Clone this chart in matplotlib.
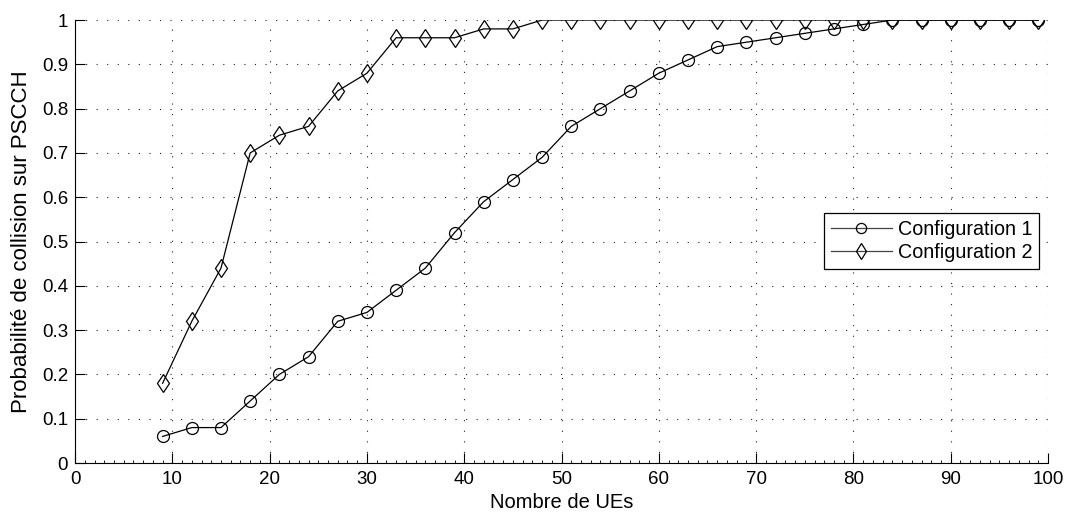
import numpy as np
import matplotlib
matplotlib.use('Agg')
import matplotlib.pyplot as plt
from matplotlib.ticker import MultipleLocator

plt.rcParams['font.family'] = ['Liberation Sans', 'DejaVu Sans']

# Données
nb_ue = [9, 12, 15, 18, 21, 24, 27, 30, 33, 36, 39, 42, 45, 48, 51, 54,
         57, 60, 63, 66, 69, 72, 75, 78, 81, 84, 87, 90, 93, 96, 99]
config1 = [0.06, 0.08, 0.08, 0.14, 0.20, 0.24, 0.32, 0.34, 0.39, 0.44, 0.52,
           0.59, 0.64, 0.69, 0.76, 0.80, 0.84, 0.88, 0.91, 0.94, 0.95, 0.96,
           0.97, 0.98, 0.99, 1.0, 1.0, 1.0, 1.0, 1.0, 1.0]
config2 = [0.18, 0.32, 0.44, 0.70, 0.74, 0.76, 0.84, 0.88, 0.96, 0.96, 0.96,
           0.98, 0.98, 1.0, 1.0, 1.0, 1.0, 1.0, 1.0, 1.0, 1.0, 1.0,
           1.0, 1.0, 1.0, 1.0, 1.0, 1.0, 1.0, 1.0, 1.0]

fig = plt.figure(figsize=(10.69, 5.14), dpi=100)
ax = fig.add_axes([0.0702, 0.0992, 0.9102, 0.8618])

ax.plot(nb_ue, config1, '-o', color='k', linewidth=0.9, markersize=8.6,
        markerfacecolor='none', markeredgewidth=0.9, label='Configuration 1')
ax.plot(nb_ue, config2, '-d', color='k', linewidth=0.9, markersize=9.5,
        markerfacecolor='none', markeredgewidth=0.9, label='Configuration 2')

ax.set_xlim(0, 100)
ax.set_ylim(0, 1)
ax.xaxis.set_major_locator(MultipleLocator(10))
ax.xaxis.set_minor_locator(MultipleLocator(1))
ax.set_yticks(np.arange(0, 1.01, 0.1))
ax.set_yticklabels(['0'] + ['%.1f' % v for v in np.arange(0.1, 0.95, 0.1)] + ['1'])

ax.tick_params(axis='both', which='major', direction='in', length=7,
               width=0.8, labelsize=13.5)
ax.tick_params(axis='x', which='major', pad=6)
ax.tick_params(axis='y', which='major', pad=5)
ax.tick_params(axis='x', which='minor', direction='in', length=2, width=0.6)

ax.spines['top'].set_visible(False)
ax.spines['right'].set_visible(False)
ax.grid(True, which='major', color='#222222', linestyle=(0, (1, 8.5)),
        linewidth=0.8)

ax.set_xlabel('Nombre de UEs', fontsize=14.5, labelpad=3)
ax.set_ylabel('Probabilité de collision sur PSCCH', fontsize=16, labelpad=7)

leg = ax.legend(loc='upper right', bbox_to_anchor=(0.991, 0.564),
                fontsize=14.2, fancybox=False, edgecolor='k', framealpha=1,
                handlelength=3.1, borderpad=0.35, labelspacing=0.2,
                handletextpad=0.3, borderaxespad=0, markerscale=0.85)
leg.get_frame().set_linewidth(0.9)
for line in leg.get_lines():
    line.set_color('#444444')
    line.set_markeredgecolor('k')

fig.savefig('out.png', dpi=100)
